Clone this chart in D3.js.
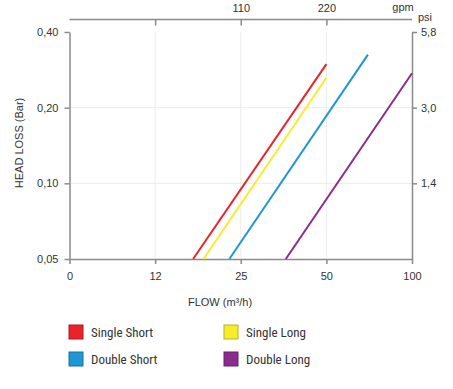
<!DOCTYPE html>
<html>
<head>
<meta charset="utf-8">
<script src="https://cdn.jsdelivr.net/npm/d3@7"></script>
<style>
  body { margin: 0; background: #fff; }
  svg text { font-family: "Liberation Sans", Arial, sans-serif; fill: #333; }
  .legend text { font-family: "Liberation Sans Narrow", "Roboto Condensed", "Liberation Sans", sans-serif; }
</style>
</head>
<body>
<div id="chart"></div>
<script>
var svgWidth = 453;
var svgHeight = 389;

// flow ticks (m3/h) and labels
var flowTicks = [6.25, 12.5, 25, 50, 100];
var flowLabels = ["0", "12", "25", "50", "100"];
var gpmTicks = [12.5, 25, 50];
var gpmLabels = ["", "110", "220"];
// head loss ticks (bar) and psi labels
var barTicks = [0.05, 0.10, 0.20, 0.40];
var barLabels = ["0,05", "0,10", "0,20", "0,40"];
var psiTicks = [0.10, 0.20, 0.40];
var psiLabels = ["1,4", "3,0", "5,8"];

var seriesNames = ["Single Short", "Single Long", "Double Short", "Double Long"];
var seriesColors = ["#e8232a", "#f6ec2c", "#1f97d4", "#8b2b8e"];
// [flow, head loss] end points
var singleShort = [[17.0, 0.05], [50, 0.298]];
var singleLong = [[18.5, 0.05], [50, 0.263]];
var doubleShort = [[22.8, 0.05], [70, 0.325]];
var doubleLong = [[36.0, 0.05], [100, 0.274]];
var seriesData = [singleShort, singleLong, doubleShort, doubleLong];

var svg = d3.select("#chart")
    .append("svg")
    .attr("width", svgWidth)
    .attr("height", svgHeight);

var xScale = d3.scaleLog()
    .domain([6.25, 100])
    .range([69.5, 412]);

var yScale = d3.scaleLog()
    .domain([0.05, 0.40])
    .range([259, 32]);

var axisColor = "#8a8a8a";

// grid
svg.append("g").selectAll("line")
    .data([12.5, 25, 50])
    .enter().append("line")
    .attr("x1", d => xScale(d)).attr("x2", d => xScale(d))
    .attr("y1", yScale(0.40)).attr("y2", yScale(0.05))
    .attr("stroke", "#ececec").attr("stroke-width", 1);

svg.append("g").selectAll("line")
    .data([0.10, 0.20])
    .enter().append("line")
    .attr("x1", xScale(6.25)).attr("x2", xScale(100))
    .attr("y1", d => yScale(d)).attr("y2", d => yScale(d))
    .attr("stroke", "#ececec").attr("stroke-width", 1);

function styleAxis(g) {
    g.selectAll("path").attr("stroke", axisColor).attr("stroke-width", 1.5);
    g.selectAll("line").attr("stroke", axisColor).attr("stroke-width", 1.5);
    g.selectAll("text").attr("fill", "#333").style("font-size", "11px");
}

// bottom axis
var xAxis = d3.axisBottom(xScale)
    .tickValues(flowTicks)
    .tickFormat((d, i) => flowLabels[i])
    .tickSizeInner(5).tickSizeOuter(0).tickPadding(8);
svg.append("g")
    .attr("transform", `translate(0, ${yScale(0.05)})`)
    .call(xAxis)
    .call(styleAxis);

// top gpm axis
var topAxis = d3.axisTop(xScale)
    .tickValues(gpmTicks)
    .tickFormat((d, i) => gpmLabels[i])
    .tickSizeInner(-6).tickSizeOuter(0).tickPadding(8);
var topG = svg.append("g")
    .attr("transform", "translate(0, 19.5)")
    .call(topAxis)
    .call(styleAxis);
topG.select("path").attr("d", `M${xScale(6.25)},0H${xScale(100)}`);

svg.append("text")
    .attr("x", 403).attr("y", 11)
    .attr("text-anchor", "middle")
    .style("font-size", "11px")
    .text("gpm");

// left axis
var yAxis = d3.axisLeft(yScale)
    .tickValues(barTicks)
    .tickFormat((d, i) => barLabels[i])
    .tickSizeInner(5).tickSizeOuter(0).tickPadding(6);
svg.append("g")
    .attr("transform", `translate(${xScale(6.25)}, 0)`)
    .call(yAxis)
    .call(styleAxis);

// right psi axis
var psiAxis = d3.axisRight(yScale)
    .tickValues(psiTicks)
    .tickFormat((d, i) => psiLabels[i])
    .tickSizeInner(5).tickSizeOuter(0).tickPadding(4);
svg.append("g")
    .attr("transform", `translate(${xScale(100)}, 0)`)
    .call(psiAxis)
    .call(styleAxis);

svg.append("text")
    .attr("x", 425).attr("y", 21)
    .attr("text-anchor", "middle")
    .style("font-size", "11px")
    .text("psi");

// axis titles
svg.append("text")
    .attr("transform", "translate(23, 143) rotate(-90)")
    .attr("text-anchor", "middle")
    .style("font-size", "11px")
    .text("HEAD LOSS (Bar)");

svg.append("text")
    .attr("x", 220).attr("y", 306)
    .attr("text-anchor", "middle")
    .style("font-size", "11px")
    .text("FLOW (m\u00b3/h)");

// lines
var line = d3.line()
    .x(d => xScale(d[0]))
    .y(d => yScale(d[1]));

svg.append("g").selectAll("path")
    .data(seriesData)
    .enter().append("path")
    .attr("d", line)
    .attr("fill", "none")
    .attr("stroke", (d, i) => seriesColors[i])
    .attr("stroke-width", 2);

// legend
var legend = svg.append("g").attr("class", "legend");
var items = legend.selectAll("g")
    .data(seriesNames)
    .enter().append("g")
    .attr("transform", (d, i) => `translate(${i % 2 === 0 ? 69 : 224}, ${i < 2 ? 325 : 352})`);

items.append("rect")
    .attr("width", 14).attr("height", 14)
    .attr("fill", (d, i) => seriesColors[i])
    .attr("stroke", (d, i) => d3.color(seriesColors[i]).darker(0.8))
    .attr("stroke-width", 1);

items.append("text")
    .attr("x", 22).attr("y", 11.5)
    .style("font-size", "13px")
    .text(d => d);
</script>
</body>
</html>
